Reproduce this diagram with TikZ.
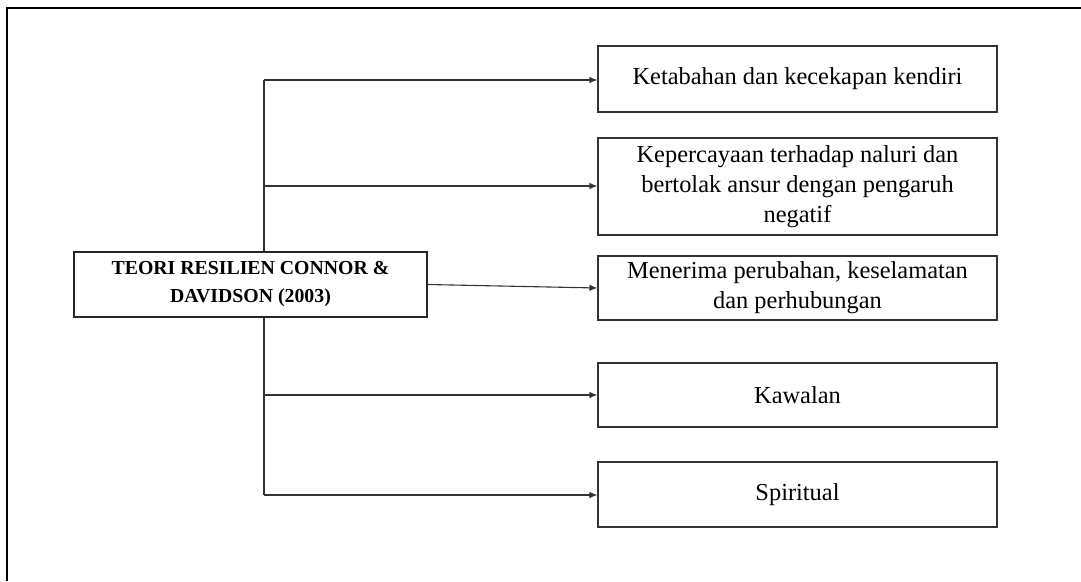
\documentclass[tikz,border=0pt]{standalone}
\usepackage{fontspec}
\setmainfont{Liberation Serif}
\usetikzlibrary{arrows.meta}
\begin{document}
\begin{tikzpicture}[x=1pt,y=-1pt,
  box/.style={draw=black!80,line width=1.1pt,fill=white,align=center,inner sep=0pt,
    minimum width=399pt,font=\fontsize{24.4}{30}\selectfont},
  mainbox/.style={draw=black!85,line width=1.1pt,fill=white,align=center,inner sep=0pt,
    minimum width=353pt,minimum height=65pt,font=\fontsize{19.8}{28}\selectfont\bfseries},
  conn/.style={draw=black!80,line width=1.1pt},
  arr/.style={conn,-{Latex[length=8pt,width=6.5pt]}},
  frame/.style={draw=black,line width=2.5pt}]
\useasboundingbox (0,0) rectangle (1081,581);
\coordinate (fl) at (7,581);
\coordinate (fc) at (7,8);
\coordinate (fr) at (1081,8);
\draw[frame] (fl) -- (fc) -- (fr);

\node[mainbox] (main) at (250.5,284.5) {TEORI RESILIEN CONNOR \&\\DAVIDSON (2003)};
\node[box,minimum height=66pt] (b1) at (797.5,79) {Ketabahan dan kecekapan kendiri};
\node[box,minimum height=97pt] (b2) at (797.5,186.5) {Kepercayaan terhadap naluri dan\\bertolak ansur dengan pengaruh\\negatif};
\node[box,minimum height=64pt] (b3) at (797.5,288) {Menerima perubahan, keselamatan\\dan perhubungan};
\node[box,minimum height=64pt] (b4) at (797.5,395) {Kawalan};
\node[box,minimum height=65pt] (b5) at (797.5,494.5) {Spiritual};

\coordinate (t) at (264,80);
\coordinate (m2) at (264,186);
\coordinate (m4) at (264,395);
\coordinate (bt) at (264,495);

\draw[conn] (main.north -| t) -- (t);
\draw[conn] (main.south -| t) -- (bt);
\draw[arr] (t) -- (t -| b1.west);
\draw[arr] (m2) -- (m2 -| b2.west);
\draw[arr] (main.east) -- (b3.west);
\draw[arr] (m4) -- (m4 -| b4.west);
\draw[arr] (bt) -- (bt -| b5.west);
\end{tikzpicture}
\end{document}
